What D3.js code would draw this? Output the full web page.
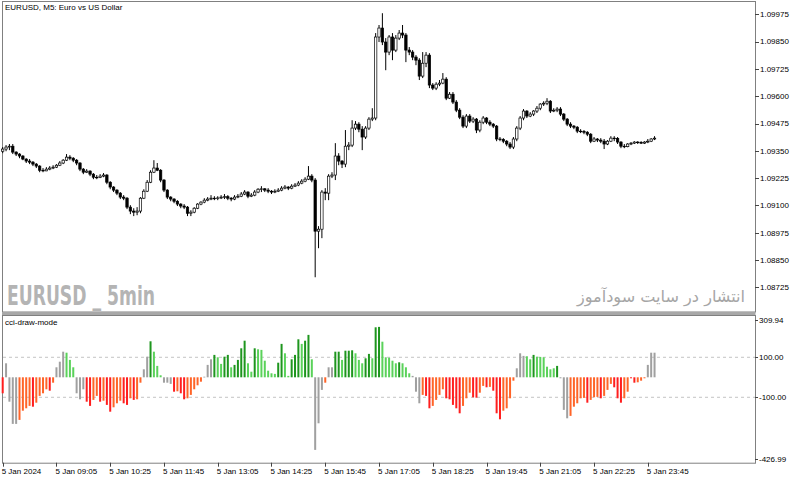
<!DOCTYPE html>
<html>
<head>
<meta charset="utf-8">
<script src="https://cdnjs.cloudflare.com/ajax/libs/d3/7.8.5/d3.min.js"></script>
<style>
html, body { margin: 0; padding: 0; background: #fff; }
svg { display: block; font-family: "Liberation Sans", Arial, sans-serif; }
</style>
</head>
<body>
<div id="chart"></div>
<script>
// EURUSD M5, 5 Jan 2024
const firstBar = "2024-01-05 07:45";
const barMinutes = 5;

const opens = [1.09348,1.09358,1.09367,1.09371,1.09344,1.09335,1.09326,1.09312,1.09303,1.09298,
1.09289,1.09280,1.09261,1.09258,1.09266,1.09271,1.09275,1.09284,1.09294,1.09307,
1.09321,1.09316,1.09307,1.09294,1.09266,1.09252,1.09257,1.09243,1.09229,1.09228,
1.09234,1.09239,1.09206,1.09184,1.09170,1.09156,1.09138,1.09133,1.09092,1.09074,
1.09069,1.09074,1.09133,1.09165,1.09206,1.09252,1.09271,1.09261,1.09216,1.09170,
1.09138,1.09129,1.09119,1.09106,1.09097,1.09092,1.09064,1.09069,1.09087,1.09106,
1.09115,1.09124,1.09129,1.09133,1.09131,1.09134,1.09138,1.09140,1.09133,1.09129,
1.09138,1.09142,1.09152,1.09161,1.09142,1.09147,1.09161,1.09174,1.09176,1.09170,
1.09165,1.09161,1.09165,1.09170,1.09179,1.09184,1.09179,1.09188,1.09193,1.09202,
1.09211,1.09220,1.09234,1.09216,1.08982,1.08991,1.09161,1.09156,1.09234,1.09239,
1.09326,1.09303,1.09289,1.09371,1.09376,1.09454,1.09472,1.09449,1.09413,1.09454,
1.09495,1.09500,1.09871,1.09912,1.09848,1.09802,1.09871,1.09811,1.09866,1.09889,
1.09880,1.09811,1.09802,1.09779,1.09765,1.09692,1.09751,1.09788,1.09651,1.09637,
1.09655,1.09660,1.09678,1.09591,1.09609,1.09573,1.09536,1.09504,1.09463,1.09509,
1.09486,1.09495,1.09445,1.09481,1.09500,1.09481,1.09472,1.09463,1.09404,1.09402,
1.09394,1.09381,1.09367,1.09404,1.09454,1.09500,1.09532,1.09509,1.09518,1.09532,
1.09545,1.09564,1.09568,1.09577,1.09532,1.09536,1.09541,1.09518,1.09495,1.09472,
1.09463,1.09458,1.09440,1.09438,1.09435,1.09426,1.09394,1.09404,1.09399,1.09394,
1.09381,1.09394,1.09408,1.09406,1.09390,1.09371,1.09369,1.09381,1.09385,1.09390,
1.09388,1.09385,1.09390,1.09394,1.09404];

const highs = [1.09367,1.09376,1.09381,1.09381,1.09348,1.09339,1.09330,1.09316,1.09312,1.09303,
1.09294,1.09284,1.09271,1.09275,1.09280,1.09284,1.09289,1.09303,1.09312,1.09335,
1.09330,1.09321,1.09312,1.09298,1.09271,1.09266,1.09261,1.09248,1.09239,1.09243,
1.09248,1.09243,1.09211,1.09188,1.09174,1.09161,1.09147,1.09138,1.09101,1.09087,
1.09092,1.09138,1.09174,1.09216,1.09261,1.09307,1.09294,1.09266,1.09220,1.09174,
1.09142,1.09133,1.09124,1.09110,1.09106,1.09097,1.09078,1.09092,1.09110,1.09119,
1.09133,1.09138,1.09147,1.09142,1.09142,1.09147,1.09152,1.09147,1.09138,1.09147,
1.09152,1.09161,1.09170,1.09165,1.09156,1.09170,1.09179,1.09188,1.09179,1.09179,
1.09170,1.09174,1.09179,1.09188,1.09193,1.09188,1.09197,1.09202,1.09211,1.09220,
1.09229,1.09280,1.09243,1.09225,1.09005,1.09170,1.09179,1.09243,1.09252,1.09385,
1.09339,1.09307,1.09445,1.09390,1.09490,1.09486,1.09481,1.09463,1.09463,1.09504,
1.09545,1.09889,1.09926,1.09980,1.09866,1.09880,1.09889,1.09880,1.09903,1.09926,
1.09889,1.09825,1.09811,1.09788,1.09774,1.09802,1.09802,1.09797,1.09660,1.09664,
1.09674,1.09706,1.09687,1.09619,1.09619,1.09582,1.09545,1.09513,1.09518,1.09518,
1.09504,1.09500,1.09490,1.09509,1.09504,1.09490,1.09477,1.09468,1.09413,1.09408,
1.09399,1.09390,1.09413,1.09463,1.09509,1.09541,1.09536,1.09527,1.09536,1.09555,
1.09568,1.09577,1.09591,1.09582,1.09545,1.09550,1.09550,1.09523,1.09500,1.09481,
1.09468,1.09463,1.09449,1.09445,1.09440,1.09431,1.09413,1.09408,1.09408,1.09404,
1.09399,1.09417,1.09417,1.09413,1.09394,1.09381,1.09385,1.09390,1.09394,1.09394,
1.09394,1.09394,1.09404,1.09408,1.09417];

const lows = [1.09339,1.09348,1.09353,1.09335,1.09326,1.09316,1.09307,1.09294,1.09289,1.09280,
1.09271,1.09252,1.09252,1.09257,1.09261,1.09266,1.09271,1.09280,1.09289,1.09303,
1.09307,1.09298,1.09284,1.09257,1.09243,1.09248,1.09234,1.09220,1.09220,1.09225,
1.09229,1.09197,1.09174,1.09161,1.09147,1.09129,1.09124,1.09083,1.09060,1.09051,
1.09055,1.09064,1.09129,1.09161,1.09202,1.09248,1.09257,1.09206,1.09161,1.09129,
1.09119,1.09110,1.09097,1.09087,1.09083,1.09051,1.09051,1.09064,1.09083,1.09101,
1.09110,1.09119,1.09124,1.09124,1.09124,1.09129,1.09129,1.09124,1.09119,1.09124,
1.09133,1.09138,1.09147,1.09133,1.09138,1.09142,1.09156,1.09161,1.09161,1.09156,
1.09152,1.09156,1.09161,1.09165,1.09174,1.09170,1.09174,1.09184,1.09188,1.09197,
1.09206,1.09216,1.09206,1.08771,1.08904,1.08950,1.09124,1.09124,1.09225,1.09216,
1.09284,1.09271,1.09275,1.09353,1.09367,1.09445,1.09435,1.09353,1.09404,1.09445,
1.09486,1.09490,1.09848,1.09834,1.09719,1.09788,1.09765,1.09802,1.09857,1.09866,
1.09756,1.09788,1.09765,1.09742,1.09674,1.09683,1.09733,1.09637,1.09628,1.09628,
1.09646,1.09655,1.09582,1.09587,1.09564,1.09527,1.09495,1.09454,1.09454,1.09477,
1.09477,1.09431,1.09435,1.09472,1.09472,1.09463,1.09454,1.09394,1.09394,1.09385,
1.09371,1.09358,1.09358,1.09394,1.09445,1.09490,1.09500,1.09504,1.09509,1.09523,
1.09536,1.09555,1.09559,1.09523,1.09527,1.09527,1.09509,1.09486,1.09463,1.09454,
1.09449,1.09431,1.09431,1.09426,1.09417,1.09385,1.09390,1.09390,1.09385,1.09358,
1.09376,1.09390,1.09394,1.09381,1.09362,1.09362,1.09366,1.09376,1.09381,1.09381,
1.09381,1.09381,1.09385,1.09390,1.09399];

const closes = [1.09358,1.09367,1.09371,1.09344,1.09335,1.09326,1.09312,1.09303,1.09298,1.09289,
1.09280,1.09261,1.09258,1.09266,1.09271,1.09275,1.09284,1.09294,1.09307,1.09321,
1.09316,1.09307,1.09294,1.09266,1.09252,1.09257,1.09243,1.09229,1.09228,1.09234,
1.09239,1.09206,1.09184,1.09170,1.09156,1.09138,1.09133,1.09092,1.09074,1.09069,
1.09074,1.09133,1.09165,1.09206,1.09252,1.09271,1.09261,1.09216,1.09170,1.09138,
1.09129,1.09119,1.09106,1.09097,1.09092,1.09064,1.09069,1.09087,1.09106,1.09115,
1.09124,1.09129,1.09133,1.09131,1.09134,1.09138,1.09140,1.09133,1.09129,1.09138,
1.09142,1.09152,1.09161,1.09142,1.09147,1.09161,1.09174,1.09176,1.09170,1.09165,
1.09161,1.09165,1.09170,1.09179,1.09184,1.09179,1.09188,1.09193,1.09202,1.09211,
1.09220,1.09234,1.09216,1.08982,1.08991,1.09161,1.09156,1.09234,1.09239,1.09326,
1.09303,1.09289,1.09371,1.09376,1.09454,1.09472,1.09449,1.09413,1.09454,1.09495,
1.09500,1.09871,1.09912,1.09848,1.09802,1.09871,1.09811,1.09866,1.09889,1.09880,
1.09811,1.09802,1.09779,1.09765,1.09692,1.09751,1.09788,1.09651,1.09637,1.09655,
1.09660,1.09678,1.09591,1.09609,1.09573,1.09536,1.09504,1.09463,1.09509,1.09486,
1.09495,1.09445,1.09481,1.09500,1.09481,1.09472,1.09463,1.09404,1.09402,1.09394,
1.09381,1.09367,1.09404,1.09454,1.09500,1.09532,1.09509,1.09518,1.09532,1.09545,
1.09564,1.09568,1.09577,1.09532,1.09536,1.09541,1.09518,1.09495,1.09472,1.09463,
1.09458,1.09440,1.09438,1.09435,1.09426,1.09394,1.09404,1.09399,1.09394,1.09381,
1.09394,1.09408,1.09406,1.09390,1.09371,1.09369,1.09381,1.09385,1.09390,1.09388,
1.09385,1.09390,1.09394,1.09404,1.09408];

// cci histogram
const cciValues = [-80,70,-122,-233,-233,-213,-167,-155,-143,-147,
-127,-93,-80,-60,-67,-27,50,78,128,123,
87,50,-80,-110,-60,-122,-143,-113,-93,-122,
-117,-138,-172,-150,-130,-117,-130,-138,-105,-113,
-110,-27,40,103,180,128,57,10,-27,-27,
-33,-72,-70,-80,-110,-105,-88,-60,-40,-22,
3,62,90,112,100,67,103,112,50,62,
87,145,183,70,28,145,140,137,83,33,
20,17,73,167,120,7,90,112,190,167,
183,212,90,-363,-230,-63,-27,50,50,128,
128,87,133,133,135,120,87,70,95,117,
95,250,252,178,100,98,83,70,75,70,
50,20,7,-72,-130,-88,-93,-155,-143,-113,
-88,-60,-105,-110,-138,-155,-180,-143,-105,-77,
-100,-102,-77,-43,-50,-48,-67,-180,-210,-167,
-155,-105,-17,45,120,107,105,90,112,103,
102,100,53,40,45,57,-5,-163,-205,-193,
-147,-130,-105,-103,-127,-113,-100,-98,-105,-93,
-63,-33,-50,-105,-127,-105,-72,-5,-27,-25,
-17,-5,62,123,123];

// n = gray, G = green up, l = green down, r = red down, o = red up
const cciColorCodes =
  "rnnnnoooor" + "ooooronnnl" + "llnnnrroor" + "orrooorror" + "oonnGlllnn" +
  "nrorrooooo" + "nnnGllGGlG" + "GGGllGllll" + "llGGllGGGl" + "GGlnnnonnG" +
  "GlGGGlllGG" + "lGGlllllGl" + "llnnnorroo" + "oorrrrrooo" + "rroororrro" +
  "ooonnnllGl" + "lllllGnnno" + "ooooroooro" + "oorrroorro" + "oonnn";

const cciPalette = { n: "#a0a0a0", G: "#1e961e", l: "#5ad25a", r: "#ff1e1e", o: "#ff6428" };

const priceTicks = [1.09975, 1.09850, 1.09725, 1.09600, 1.09475, 1.09350, 1.09225, 1.09100, 1.08975, 1.08850, 1.08725];
const cciScaleMax = 309.94;
const cciScaleMin = -426.99;
const cciLevels = [100, -100];

const timeTickBars = ["07:45", "09:05", "10:25", "11:45", "13:05", "14:25", "15:45", "17:05", "18:25", "19:45", "21:05", "22:25", "23:45"];
const timeTickLabels = ["5 Jan 2024", "5 Jan 09:05", "5 Jan 10:25", "5 Jan 11:45", "5 Jan 13:05", "5 Jan 14:25", "5 Jan 15:45",
  "5 Jan 17:05", "5 Jan 18:25", "5 Jan 19:45", "5 Jan 21:05", "5 Jan 22:25", "5 Jan 23:45"];

// layout
const W = 800, H = 481;
const frame = { left: 2, right: 755 };
const mainPane = { top: 2, bottom: 312 };
const subPane = { top: 315, bottom: 462.7 };
const barStep = 3.36;
const axisColor = "#808080";
const textColor = "#000";
const fontSize = 8;

const t0 = d3.timeParse("%Y-%m-%d %H:%M")(firstBar);
const fmt = d3.timeFormat("%H:%M");
const times = closes.map((_, i) => fmt(d3.timeMinute.offset(t0, i * barMinutes)));

const candles = times.map((t, i) => ({
  t, o: opens[i], h: highs[i], l: lows[i], c: closes[i]
}));

const bars = times.map((t, i) => ({
  t, v: cciValues[i], color: cciPalette[cciColorCodes[i]]
}));

const svg = d3.select("#chart").append("svg")
  .attr("width", W)
  .attr("height", H)
  .attr("viewBox", `0 0 ${W} ${H}`);

const x = d3.scaleBand()
  .domain(times)
  .range([1.02, 1.02 + barStep * times.length]);
const cx = t => x(t) + x.bandwidth() / 2;

const y = d3.scaleLinear()
  .domain([1.09975, 1.08725])
  .range([14.3, 287.3]);

const yc = d3.scaleLinear()
  .domain([cciScaleMax, cciScaleMin])
  .range([subPane.top + 0.3, subPane.bottom]);

// panes
svg.append("rect")
  .attr("x", frame.left + 0.5).attr("y", mainPane.top - 0.5)
  .attr("width", frame.right - frame.left).attr("height", mainPane.bottom - mainPane.top + 0.5)
  .attr("fill", "none").attr("stroke", axisColor);

svg.append("rect")
  .attr("x", frame.left).attr("y", mainPane.bottom)
  .attr("width", frame.right - frame.left + 0.5).attr("height", subPane.top - mainPane.bottom)
  .attr("fill", "#a8a8a8");

svg.append("rect")
  .attr("x", frame.left + 0.5).attr("y", subPane.top + 0.5)
  .attr("width", frame.right - frame.left).attr("height", subPane.bottom - subPane.top)
  .attr("fill", "none").attr("stroke", axisColor);

// watermark
svg.append("text")
  .attr("x", 7).attr("y", 305)
  .attr("font-family", "'Liberation Sans Narrow', 'DejaVu Sans Condensed', sans-serif")
  .attr("font-weight", "bold")
  .attr("font-size", 27)
  .attr("textLength", 148)
  .attr("lengthAdjust", "spacingAndGlyphs")
  .attr("fill", "#b4b4b4")
  .text("EURUSD _ 5min");

svg.append("text")
  .attr("x", 745).attr("y", 302)
  .attr("text-anchor", "end")
  .attr("font-family", "'DejaVu Sans', sans-serif")
  .attr("font-size", 16)
  .attr("textLength", 168)
  .attr("lengthAdjust", "spacingAndGlyphs")
  .attr("fill", "#a6a6a6")
  .text("انتشار در سایت سودآموز");

// candles
const cg = svg.append("g");
cg.selectAll("line")
  .data(candles)
  .join("line")
  .attr("x1", d => cx(d.t)).attr("x2", d => cx(d.t))
  .attr("y1", d => y(d.h)).attr("y2", d => y(d.l))
  .attr("stroke", "#000").attr("stroke-width", 1);

cg.selectAll("rect")
  .data(candles)
  .join("rect")
  .attr("x", d => cx(d.t) - 1.2)
  .attr("width", 2.4)
  .attr("y", d => y(Math.max(d.o, d.c)))
  .attr("height", d => Math.max(0.6, Math.abs(y(d.o) - y(d.c))))
  .attr("fill", d => d.c >= d.o ? "#fff" : "#000")
  .attr("stroke", "#000")
  .attr("stroke-width", 0.7);

// cci levels
svg.append("g").selectAll("line")
  .data(cciLevels)
  .join("line")
  .attr("x1", frame.left + 1).attr("x2", frame.right)
  .attr("y1", d => yc(d)).attr("y2", d => yc(d))
  .attr("stroke", "#c3c3c3")
  .attr("stroke-dasharray", "3,3");

// cci histogram
svg.append("g").selectAll("rect")
  .data(bars)
  .join("rect")
  .attr("x", d => cx(d.t) - 1)
  .attr("width", 2)
  .attr("y", d => Math.min(yc(0), yc(d.v)))
  .attr("height", d => Math.max(0.8, Math.abs(yc(d.v) - yc(0))))
  .attr("fill", d => d.color);

// price axis
const pa = svg.append("g");
pa.selectAll("line")
  .data(priceTicks)
  .join("line")
  .attr("x1", frame.right).attr("x2", frame.right + 4)
  .attr("y1", d => Math.round(y(d)) + 0.5).attr("y2", d => Math.round(y(d)) + 0.5)
  .attr("stroke", "#444");
pa.selectAll("text")
  .data(priceTicks)
  .join("text")
  .attr("x", frame.right + 5)
  .attr("y", d => y(d))
  .attr("dy", "0.35em")
  .attr("font-size", fontSize)
  .attr("fill", textColor)
  .text(d => d3.format(".5f")(d));

// cci axis
const cciAxisTicks = [
  { v: cciScaleMax, label: "309.94" },
  { v: cciLevels[0], label: "100.00" },
  { v: cciLevels[1], label: "-100.00" },
  { v: cciScaleMin, label: "-426.99" }
];
const clampY = v => Math.min(subPane.bottom - 4, Math.max(subPane.top + 5, yc(v)));
const ca = svg.append("g");
ca.selectAll("line")
  .data(cciAxisTicks)
  .join("line")
  .attr("x1", frame.right).attr("x2", frame.right + 3)
  .attr("y1", d => Math.round(clampY(d.v)) + 0.5).attr("y2", d => Math.round(clampY(d.v)) + 0.5)
  .attr("stroke", "#444");
ca.selectAll("text")
  .data(cciAxisTicks)
  .join("text")
  .attr("x", frame.right + 4)
  .attr("y", d => clampY(d.v))
  .attr("dy", "0.35em")
  .attr("font-size", fontSize)
  .attr("fill", textColor)
  .text(d => d.label);

// time axis
const ta = svg.append("g");
ta.selectAll("line")
  .data(timeTickBars)
  .join("line")
  .attr("x1", d => Math.round(cx(d)) + 0.5).attr("x2", d => Math.round(cx(d)) + 0.5)
  .attr("y1", subPane.bottom).attr("y2", subPane.bottom + 4)
  .attr("stroke", "#444");
ta.selectAll("text")
  .data(timeTickBars)
  .join("text")
  .attr("x", d => cx(d) - 1)
  .attr("y", subPane.bottom + 11)
  .attr("font-size", fontSize)
  .attr("fill", textColor)
  .text((d, i) => timeTickLabels[i]);

// pane titles
svg.append("text")
  .attr("x", 5).attr("y", 10)
  .attr("font-size", fontSize)
  .attr("fill", textColor)
  .text("EURUSD, M5:  Euro vs US Dollar");

svg.append("text")
  .attr("x", 5).attr("y", 325)
  .attr("font-size", fontSize)
  .attr("fill", textColor)
  .text("cci-draw-mode");
</script>
</body>
</html>
